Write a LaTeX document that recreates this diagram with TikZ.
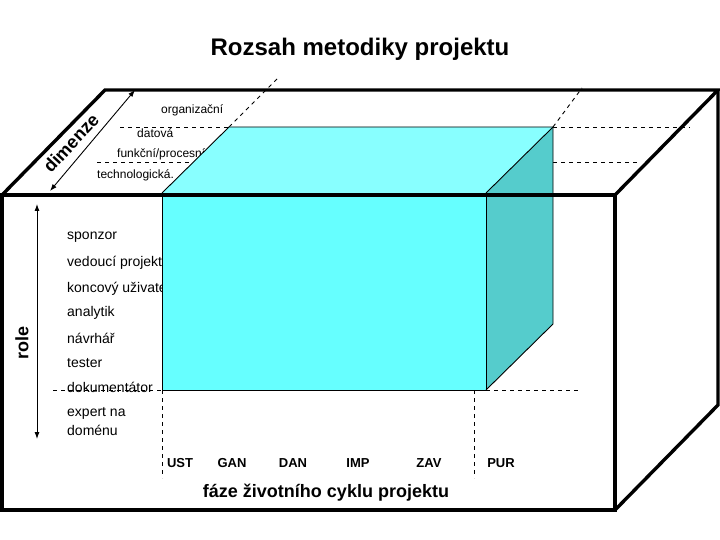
\documentclass[tikz,border=0pt]{standalone}
\usepackage{fontspec}
\setmainfont{Liberation Sans}
\usetikzlibrary{arrows.meta}
\definecolor{cfront}{HTML}{66FFFF}
\definecolor{ctop}{HTML}{88FFFF}
\definecolor{cside}{HTML}{55CCCC}
\begin{document}
\begin{tikzpicture}[x=1pt,y=-1pt,
  thickline/.style={line width=3.4pt, line join=miter},
  edgeline/.style={line width=0.9pt, line join=miter},
  dashline/.style={line width=0.9pt, dash pattern=on 4pt off 4pt},
  dimlbl/.style={font=\fontsize{12}{14}\selectfont, anchor=west, inner sep=0},
  rolelbl/.style={font=\fontsize{14}{16}\selectfont, anchor=west, inner sep=0, align=left},
  phaselbl/.style={font=\fontsize{13}{15}\selectfont\bfseries, inner sep=0},
  axislbl/.style={font=\fontsize{18}{20}\selectfont\bfseries, inner sep=0},
  dimarrow/.style={line width=0.9pt, {Latex[length=7pt,width=5pt]}-{Latex[length=7pt,width=5pt]}}]
\useasboundingbox (0,0) rectangle (720,540);
% outer box corners
\coordinate (FTL) at (2,195);
\coordinate (FTR) at (615,195);
\coordinate (FBR) at (615,510);
\coordinate (FBL) at (2,510);
\coordinate (BTL) at (105,90);
\coordinate (BTR) at (718,90);
\coordinate (BBR) at (718,405);
% cyan box corners
\coordinate (CFTL) at (162,193);
\coordinate (CFTR) at (486,193);
\coordinate (CFBR) at (486,390);
\coordinate (CFBL) at (162,390);
\coordinate (CBTL) at (229,127);
\coordinate (CBTR) at (553,127);
\coordinate (CBBR) at (553,324);
% outer box back edges
\draw[thickline] (FTL) -- (BTL) -- (BTR) -- (FTR);
\draw[thickline] (BTR) -- (BBR) -- (FBR);
% dashed guide lines
\coordinate (d1a) at (120,127); \coordinate (d1b) at (690,127);
\coordinate (d2a) at (97,162);  \coordinate (d2b) at (194,162);
\coordinate (d2c) at (553,162); \coordinate (d2d) at (637,162);
\coordinate (d3a) at (53,390);  \coordinate (d3b) at (578,390);
\coordinate (dvA) at (162,478); \coordinate (dvB) at (474,478);
\coordinate (dvB0) at (474,390);
\coordinate (ddL) at (277,79);  \coordinate (ddR) at (582,88);
\draw[dashline] (d1a) -- (CBTL);
\draw[dashline] (CBTR) -- (d1b);
\draw[dashline] (d2a) -- (d2b);
\draw[dashline] (d2c) -- (d2d);
\draw[dashline] (d3a) -- (CFBL);
\draw[dashline] (CFBR) -- (d3b);
\draw[dashline] (CFBL) -- (dvA);
\draw[dashline] (dvB0) -- (dvB);
\draw[dashline] (CBTL) -- (ddL);
\draw[dashline] (CBTR) -- (ddR);
% dimension labels
\node[dimlbl] (organ) at (161,110.5) {organizační};
\node[dimlbl] (dat) at (137,133.5) {datová};
\node[dimlbl] (funk) at (117,154.5) {funkční/procesní};
\node[dimlbl] (tech) at (97,175.5) {technologická.};
% role labels
\node[rolelbl] (r1) at (67,237) {sponzor};
\node[rolelbl] (r2) at (67,263) {vedoucí projektu};
\node[rolelbl] (r3) at (67,288.5) {koncový uživatel};
\node[rolelbl] (r4) at (67,313) {analytik};
\node[rolelbl] (r5) at (67,338) {návrhář};
\node[rolelbl] (r6) at (67,363) {tester};
\node[rolelbl] (r7) at (67,387.5) {dokumentátor};
\node[rolelbl] (r8) at (67,413) {expert na};
\node[rolelbl] (r9) at (67,430) {doménu};
% cyan box
\fill[ctop] (CFTL) -- (CBTL) -- (CBTR) -- (CFTR) -- cycle;
\fill[cside] (CFTR) -- (CBTR) -- (CBBR) -- (CFBR) -- cycle;
\fill[cfront] (CFTL) rectangle (CFBR);
\draw[edgeline] (CFTL) -- (CBTL) -- (CBTR) -- (CBBR) -- (CFBR);
\draw[edgeline] (CBTR) -- (CFTR);
\draw[edgeline] (CFTL) rectangle (CFBR);
% outer front face
\draw[thickline] (FTL) rectangle (FBR);
% arrows
\coordinate (daT) at (135,90);
\coordinate (daB) at (50,191);
\draw[dimarrow] (daT) -- (daB);
\coordinate (raT) at (37,204);
\coordinate (raB) at (37,439);
\draw[dimarrow] (raT) -- (raB);
\node[axislbl, rotate=47] (dimenze) at (71,143) {dimenze};
\node[axislbl, rotate=90] (role) at (22,343) {role};
% phases
\node[phaselbl] (UST) at (180,463) {UST};
\node[phaselbl] (GAN) at (232,463) {GAN};
\node[phaselbl] (DAN) at (293,463) {DAN};
\node[phaselbl] (IMP) at (358,463) {IMP};
\node[phaselbl] (ZAV) at (429,463) {ZAV};
\node[phaselbl] (PUR) at (501,463) {PUR};
\node[axislbl] (faze) at (326,493) {fáze životního cyklu projektu};
% title
\node[font=\fontsize{24}{28}\selectfont\bfseries, inner sep=0] (title) at (360,49) {Rozsah metodiky projektu};
\end{tikzpicture}
\end{document}
